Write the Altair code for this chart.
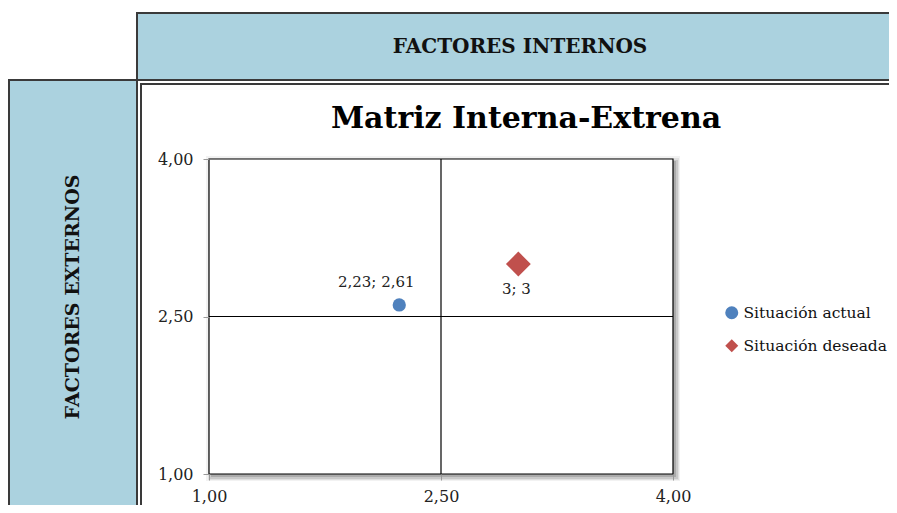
import altair as alt
import pandas as pd

# ---- data ----
series = ["Situación actual", "Situación deseada"]
x_vals = [2.23, 3.0]
y_vals = [2.61, 3.0]
point_labels = ["2,23; 2,61", "3; 3"]
point_sizes = [175, 620]
colors = ["#4F81BD", "#C0504D"]
shapes = ["circle", "diamond"]
tick_values = [1.0, 2.5, 4.0]
axis_min, axis_max, axis_mid = 1.0, 4.0, 2.5
title_text = "Matriz Interna-Extrena"
top_header = "FACTORES INTERNOS"
side_header = "FACTORES EXTERNOS"

W, H = 464, 315
FONT = "DejaVu Serif"
HEAD_FILL = "#ABD2DF"
BORDER = "#3a3a3a"

df = pd.DataFrame({"serie": series, "x": x_vals, "y": y_vals,
                   "label": point_labels, "size": point_sizes})
one = pd.DataFrame({"k": [0]})
mid = pd.DataFrame({"v": [axis_mid]})

label_expr = "replace(format(datum.value, '.2f'), '.', ',')"
xscale = alt.Scale(domain=[axis_min, axis_max], nice=False, zero=False)
yscale = alt.Scale(domain=[axis_min, axis_max], nice=False, zero=False)
xaxis = alt.Axis(values=tick_values, labelExpr=label_expr, title=None, domain=False,
                 grid=False, tickSize=6, tickColor="#999", labelPadding=8, labelFlush=False,
                 labelFont=FONT, labelFontSize=16, labelColor="#222", zindex=2)
yaxis = alt.Axis(values=tick_values, labelExpr=label_expr, title=None, domain=False,
                 grid=False, tickSize=6, tickColor="#999", labelPadding=10, labelFlush=False,
                 labelFont=FONT, labelFontSize=16, labelColor="#222", zindex=2)
legend = alt.Legend(orient="none", legendX=515, legendY=146, title=None,
                    labelFont=FONT, labelFontSize=15.5, labelColor="#111",
                    symbolSize=170, rowPadding=16, labelOffset=4, padding=0,
                    symbolStrokeWidth=0, zindex=2)


def box(x1, x2, y1, y2, fill, stroke=None, sw=0, opacity=1.0):
    kw = dict(fill=fill, opacity=opacity)
    if stroke:
        kw.update(stroke=stroke, strokeWidth=sw)
    else:
        kw.update(strokeWidth=0)
    return alt.Chart(one).mark_rect(**kw).encode(
        x=alt.value(x1), x2=alt.value(x2), y=alt.value(y1), y2=alt.value(y2))


def label(text, x, y, size, bold=False, angle=0):
    kw = dict(font=FONT, fontSize=size, align="center", baseline="middle", color="#111")
    if bold:
        kw["fontWeight"] = "bold"
    if angle:
        kw["angle"] = angle
    return alt.Chart(one).mark_text(**kw).encode(
        x=alt.value(x), y=alt.value(y), text=alt.value(text))


left_box = box(-200, -72, -79, 370, HEAD_FILL, BORDER, 2)
top_box = box(-72, 1000, -146, -79, HEAD_FILL, BORDER, 2)
frame = box(-68, 1000, -75, 370, "white", BORDER, 2)
title = alt.Chart(one).mark_text(font=FONT, fontSize=30, fontWeight="bold", align="center",
                                 baseline="alphabetic", color="#000").encode(
    x=alt.value(317), y=alt.value(-31), text=alt.value(title_text))
top_txt = label(top_header, 311, -112, 20, bold=True)
side_txt = label(side_header, -136, 138, 19, bold=True, angle=270)

shadows = [
    box(-3, W + 7, -3, H + 7, "#000", opacity=0.05),
    box(-1, W + 6, -1, H + 6, "#000", opacity=0.07),
    box(1, W + 5, 1, H + 5, "#000", opacity=0.10),
    box(2, W + 3, 2, H + 3, "#000", opacity=0.15),
]
plot_bg = box(0, W, 0, H, "white", "#000", 1.2)

vline = alt.Chart(mid).mark_rule(color="#000", strokeWidth=1.2).encode(
    x=alt.X("v:Q", scale=xscale, axis=xaxis))
hline = alt.Chart(mid).mark_rule(color="#000", strokeWidth=1.2).encode(
    y=alt.Y("v:Q", scale=yscale, axis=yaxis))

points = alt.Chart(df).mark_point(filled=True, opacity=1, strokeWidth=0).encode(
    x=alt.X("x:Q", scale=xscale, axis=xaxis),
    y=alt.Y("y:Q", scale=yscale, axis=yaxis),
    color=alt.Color("serie:N", scale=alt.Scale(domain=series, range=colors), legend=legend),
    shape=alt.Shape("serie:N", scale=alt.Scale(domain=series, range=shapes), legend=legend),
    size=alt.Size("size:Q", scale=None, legend=None),
)

lab1 = alt.Chart(df).transform_filter(alt.datum.serie == series[0]).mark_text(
    font=FONT, fontSize=15, color="#222", dx=-23, dy=-23).encode(
    x=alt.X("x:Q", scale=xscale, axis=xaxis), y=alt.Y("y:Q", scale=yscale, axis=yaxis),
    text="label:N")
lab2 = alt.Chart(df).transform_filter(alt.datum.serie == series[1]).mark_text(
    font=FONT, fontSize=15, color="#222", dx=-2, dy=25).encode(
    x=alt.X("x:Q", scale=xscale, axis=xaxis), y=alt.Y("y:Q", scale=yscale, axis=yaxis),
    text="label:N")

chart = alt.layer(
    left_box, top_box, frame, title, top_txt, side_txt,
    *shadows, plot_bg, vline, hline, points, lab1, lab2
).properties(
    width=W, height=H,
    autosize=alt.AutoSizeParams(type="none"),
    padding={"left": 201, "top": 151, "right": 216, "bottom": 31},
).configure_view(stroke=None).configure(background="white")

chart.save("out.html", embed_options={"renderer": "svg", "actions": False})
